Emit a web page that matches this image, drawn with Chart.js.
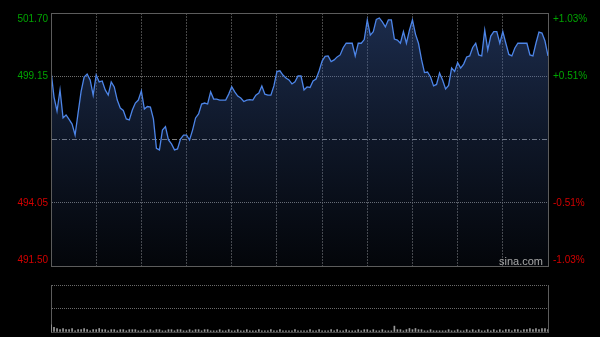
<!DOCTYPE html>
<html>
<head>
<meta charset="utf-8">
<script src="https://cdn.jsdelivr.net/npm/chart.js@4"></script>
<style>
  html, body { margin: 0; padding: 0; background: #000; }
  #wrap { position: relative; width: 600px; height: 337px; overflow: hidden; background: #000; }
  #mainChart { position: absolute; left: 0; top: 0; }
  #volChart { position: absolute; left: 0; top: 270px; }
  .mark { position: absolute; left: 499px; top: 255px; font: 11px "Liberation Sans", Arial, sans-serif; color: #a8a8a8; }
</style>
</head>
<body>
<div id="wrap">
  <canvas id="mainChart" width="600" height="270" style="width:600px;height:270px"></canvas>
  <canvas id="volChart" width="600" height="67" style="width:600px;height:67px"></canvas>
  <div class="mark">sina.com</div>
</div>
<script>
// giá tham chiếu (đường giữa) và các mức trên trục
const prevClose = 496.60;
const priceTicks = [491.50, 494.05, 496.60, 499.15, 501.70];
const gridSteps = [0, 15, 30, 45, 60, 75, 90, 105, 120, 135, 150, 165];
const volTicks = [0, 20, 40];

// giá theo thời gian
const prices = [
  499.36, 498.31, 497.75, 498.60, 497.47, 497.59, 497.41, 497.22, 496.78, 497.67,
  498.54, 499.12, 499.24, 499.00, 498.39, 499.20, 498.92, 498.96, 498.60, 498.39,
  498.92, 498.72, 498.19, 497.87, 497.77, 497.43, 497.39, 497.79, 498.07, 498.19,
  498.56, 497.83, 497.93, 497.91, 497.43, 496.24, 496.18, 496.98, 497.12, 496.58,
  496.42, 496.18, 496.22, 496.62, 496.78, 496.78, 496.58, 496.98, 497.47, 497.63,
  498.03, 498.07, 498.03, 498.52, 498.23, 498.23, 498.19, 498.19, 498.19, 498.43,
  498.73, 498.52, 498.35, 498.27, 498.13, 498.19, 498.21, 498.19, 498.39, 498.47,
  498.76, 498.43, 498.39, 498.39, 498.76, 499.34, 499.37, 499.20, 499.08, 499.00,
  498.84, 498.93, 499.16, 499.16, 498.60, 498.72, 498.70, 498.96, 499.04, 499.36,
  499.76, 499.95, 499.97, 499.74, 499.81, 499.93, 500.01, 500.30, 500.48, 500.48,
  500.48, 499.97, 500.48, 500.48, 500.63, 501.42, 500.81, 500.95, 501.44, 501.50,
  501.34, 501.14, 501.42, 501.42, 500.65, 500.61, 500.48, 500.95, 500.48, 501.01,
  501.42, 500.85, 500.48, 499.83, 499.30, 499.32, 499.12, 498.76, 498.82, 499.28,
  499.00, 498.64, 498.78, 499.48, 499.34, 499.70, 499.48, 499.64, 499.93, 499.97,
  500.31, 500.48, 500.01, 499.97, 501.01, 500.21, 500.77, 500.95, 500.95, 500.48,
  500.95, 500.48, 500.03, 499.97, 500.29, 500.48, 500.48, 500.48, 500.48, 500.01,
  499.97, 500.48, 500.93, 500.89, 500.57, 499.97
];

// khối lượng (rất nhỏ)
const volumes = [
  6, 4, 3, 2, 3, 2, 2, 3, 1, 2,  2, 3, 2, 1, 2, 2, 3, 2, 2, 1,
  2, 2, 1, 2, 2, 1, 2, 2, 2, 1,  1, 2, 1, 2, 1, 2, 2, 1, 1, 2,
  2, 1, 2, 2, 1, 1, 2, 1, 2, 2,  1, 2, 2, 1, 1, 1, 2, 1, 1, 2,
  1, 1, 2, 1, 1, 2, 1, 1, 1, 2,  1, 1, 1, 2, 1, 1, 2, 1, 1, 1,
  1, 2, 1, 1, 1, 1, 2, 1, 1, 2,  1, 1, 1, 2, 1, 2, 1, 1, 2, 1,
  1, 1, 2, 1, 2, 2, 1, 2, 1, 1,  2, 1, 1, 1, 5, 2, 2, 1, 2, 3,
  2, 3, 2, 2, 1, 1, 2, 1, 1, 1,  1, 1, 2, 1, 1, 2, 1, 1, 2, 1,
  2, 1, 2, 1, 1, 2, 1, 2, 1, 2,  1, 2, 2, 1, 2, 2, 1, 2, 2, 3,
  2, 3, 2, 3, 3, 2
];

const GREEN = '#00a400';
const RED = '#d40000';
const BORDER = '#5c5c5c';
const labelFont = { family: '"Liberation Sans", Arial, sans-serif', size: 10 };
const lastX = prices.length - 1;

function isMid(v) { return Math.abs(v - prevClose) < 1e-6; }
function isEdge(v) { return Math.abs(v - priceTicks[0]) < 1e-6 || Math.abs(v - priceTicks[priceTicks.length - 1]) < 1e-6; }

// nhãn ở hai mép được đẩy vào trong
function edgeLabel(text, v) {
  if (Math.abs(v - priceTicks[priceTicks.length - 1]) < 1e-6) return ['', text];
  if (Math.abs(v - priceTicks[0]) < 1e-6) return [text, ''];
  return text;
}

function tickColor(ctx) {
  return ctx.tick && ctx.tick.value >= prevClose ? GREEN : RED;
}

// nền dưới đường giá, trong suốt một phần để lưới vẫn nhìn thấy
function areaFill(ctx) {
  const area = ctx.chart.chartArea;
  if (!area) return 'rgba(0,0,0,0)';
  const g = ctx.chart.ctx.createLinearGradient(0, area.top, 0, area.bottom);
  g.addColorStop(0, 'rgba(60,95,165,0.46)');
  g.addColorStop(0.5, 'rgba(60,95,165,0.24)');
  g.addColorStop(1, 'rgba(60,95,165,0.06)');
  return g;
}

function setTicks(list) {
  return function (scale) { scale.ticks = list.map(v => ({ value: v })); };
}

// cố định bề rộng trục, bỏ phần đệm do nhãn
function fixWidth(w) {
  return function (scale) {
    scale.width = w;
    scale.paddingTop = 0;
    scale.paddingBottom = 0;
  };
}

// Biểu đồ giá
new Chart(document.getElementById('mainChart'), {
  type: 'line',
  data: {
    datasets: [{
      data: prices.map((p, i) => ({ x: i, y: p })),
      borderColor: '#4d85e8',
      borderWidth: 1.3,
      pointRadius: 0,
      tension: 0,
      fill: 'start',
      backgroundColor: areaFill
    }]
  },
  options: {
    responsive: false,
    animation: false,
    layout: { padding: 0 },
    plugins: { legend: { display: false }, tooltip: { enabled: false } },
    scales: {
      x: {
        type: 'linear', min: 0, max: lastX,
        afterBuildTicks: setTicks(gridSteps),
        afterFit: s => { s.height = 4; s.paddingLeft = 0; s.paddingRight = 0; },
        ticks: { display: false },
        grid: {
          drawTicks: false,
          color: ctx => (ctx.tick && ctx.tick.value > 0 && ctx.tick.value < lastX) ? '#474747' : 'rgba(0,0,0,0)'
        },
        border: { z: 1, color: BORDER, dash: ctx => ctx.tick ? [2, 1] : [] }
      },
      xTop: {
        type: 'linear', position: 'top', min: 0, max: lastX,
        afterFit: s => { s.height = 13; s.paddingLeft = 0; s.paddingRight = 0; },
        ticks: { display: false },
        grid: { display: false, drawTicks: false },
        border: { z: 1, color: BORDER }
      },
      y: {
        position: 'left', min: priceTicks[0], max: priceTicks[priceTicks.length - 1],
        afterBuildTicks: setTicks(priceTicks),
        afterFit: fixWidth(51),
        ticks: {
          font: labelFont, color: tickColor, padding: 3,
          callback: v => isMid(v) ? '' : edgeLabel(v.toFixed(2), v)
        },
        grid: {
          drawTicks: false,
          color: ctx => !ctx.tick || isEdge(ctx.tick.value) ? 'rgba(0,0,0,0)' : (isMid(ctx.tick.value) ? '#7e7e7e' : '#6e6e6e')
        },
        border: {
          z: 1,
          color: BORDER,
          dash: ctx => !ctx.tick ? [] : (isMid(ctx.tick.value) ? [5, 2, 1, 2] : [1, 1])
        }
      },
      y1: {
        position: 'right', min: priceTicks[0], max: priceTicks[priceTicks.length - 1],
        afterBuildTicks: setTicks(priceTicks),
        afterFit: fixWidth(52),
        ticks: {
          font: labelFont, color: tickColor, padding: 5,
          callback: v => {
            if (isMid(v)) return '';
            const pct = (v - prevClose) / prevClose * 100;
            return edgeLabel((pct > 0 ? '+' : '') + pct.toFixed(2) + '%', v);
          }
        },
        grid: { display: false, drawTicks: false },
        border: { z: 1, color: BORDER }
      }
    }
  }
});

// Biểu đồ khối lượng
new Chart(document.getElementById('volChart'), {
  type: 'bar',
  data: {
    datasets: [{
      data: volumes.map((v, i) => ({ x: i, y: v })),
      backgroundColor: '#9a9a9a',
      barThickness: 1,
      borderWidth: 0
    }]
  },
  options: {
    responsive: false,
    animation: false,
    layout: { padding: { top: 15 } },
    plugins: { legend: { display: false }, tooltip: { enabled: false } },
    scales: {
      x: {
        type: 'linear', min: 0, max: lastX, offset: false,
        afterFit: s => { s.height = 5; },
        ticks: { display: false },
        grid: { display: false, drawTicks: false },
        border: { color: '#444' }
      },
      y: {
        position: 'left', min: volTicks[0], max: volTicks[volTicks.length - 1],
        afterBuildTicks: setTicks(volTicks),
        afterFit: fixWidth(51),
        ticks: { display: false },
        grid: {
          drawTicks: false,
          color: ctx => ctx.tick && ctx.tick.value > 0 ? '#6a6a6a' : 'rgba(0,0,0,0)'
        },
        border: { color: BORDER, dash: ctx => ctx.tick ? [1, 1] : [] }
      },
      y1: {
        position: 'right', min: volTicks[0], max: volTicks[volTicks.length - 1],
        afterFit: fixWidth(52),
        ticks: { display: false },
        grid: { display: false, drawTicks: false },
        border: { color: BORDER }
      }
    }
  }
});
</script>
</body>
</html>
